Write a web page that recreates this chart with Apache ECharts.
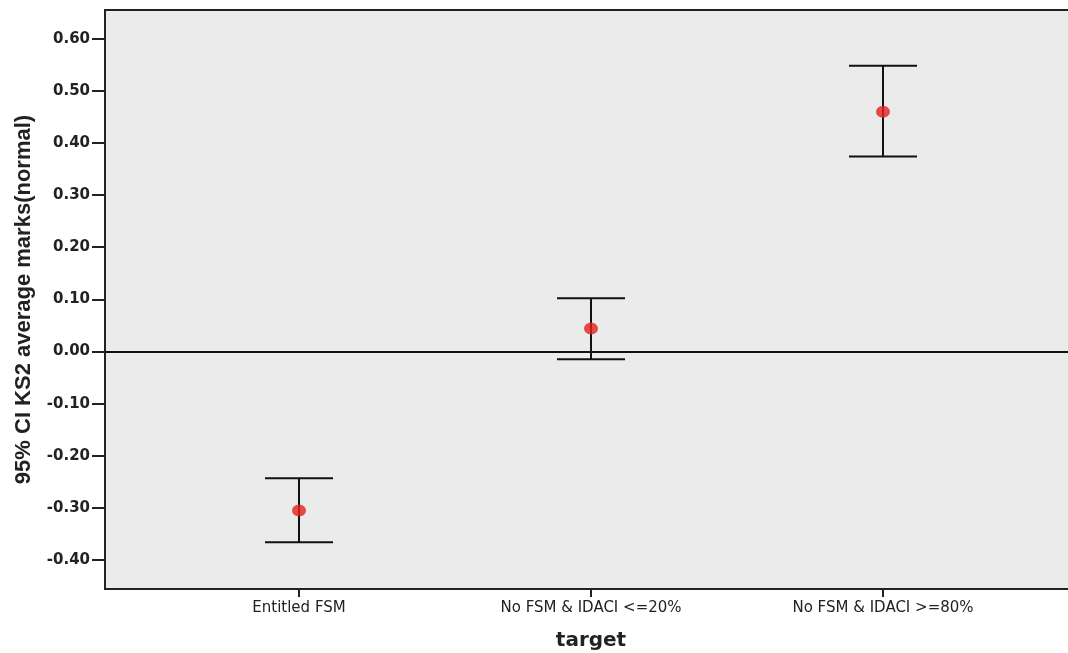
<!DOCTYPE html>
<html><head><meta charset="utf-8">
<script src="https://cdn.jsdelivr.net/npm/echarts@6/dist/echarts.min.js"></script>
<style>html,body{margin:0;padding:0;background:#fff}#c{width:1068px;height:653px}</style>
</head><body><div id="c"></div>
<script>
const categories = ['Entitled FSM', 'No FSM & IDACI <=20%', 'No FSM & IDACI >=80%'];
const means = [-0.305, 0.044, 0.460];
const lower = [-0.366, -0.015, 0.374];
const upper = [-0.243, 0.102, 0.548];
const yTicks = [-0.4, -0.3, -0.2, -0.1, 0.0, 0.1, 0.2, 0.3, 0.4, 0.5, 0.6];
const xPositions = [1, 2, 3];

const font = '"Liberation Sans", Arial, sans-serif';
const wide = '"DejaVu Sans", sans-serif';
const chart = echarts.init(document.getElementById('c'));
chart.setOption({
  animation: false,
  grid: {left: 105, right: -9, top: 10, bottom: 64, outerBoundsMode: 'none', containLabel: false,
    show: true, backgroundColor: '#ebebeb', borderColor: '#222', borderWidth: 2},
  xAxis: {
    type: 'value', min: 0.3356, max: 3.6644,
    name: 'target', nameLocation: 'middle', nameGap: 42,
    nameTextStyle: {fontFamily: wide, fontWeight: 'bold', fontSize: 20, color: '#222'},
    axisLine: {show: true, onZero: false, lineStyle: {color: '#222', width: 2}},
    axisTick: {show: true, length: 8, lineStyle: {color: '#222', width: 2}, customValues: xPositions},
    axisLabel: {customValues: xPositions, margin: 12, fontFamily: wide, fontSize: 15, color: '#222',
      formatter: v => categories[Math.round(v) - 1] || ''},
    splitLine: {show: false}
  },
  yAxis: {
    type: 'value', min: -0.4556, max: 0.655,
    name: '95% CI KS2 average marks(normal)', nameLocation: 'middle', nameGap: 70, nameRotate: 90,
    nameTextStyle: {fontFamily: font, fontWeight: 'bold', fontSize: 22, color: '#222'},
    axisLine: {show: true, onZero: false, lineStyle: {color: '#222', width: 2}},
    axisTick: {show: true, length: 13, lineStyle: {color: '#222', width: 2}, customValues: yTicks},
    axisLabel: {customValues: yTicks, margin: 15, fontFamily: wide, fontWeight: 'bold', fontSize: 15, color: '#222',
      formatter: v => v.toFixed(2)},
    splitLine: {show: false}
  },
  series: [
    {
      type: 'custom',
      data: xPositions.map((x, i) => [x, lower[i], upper[i]]),
      renderItem: (params, api) => {
        const lo = api.coord([api.value(0), api.value(1)]);
        const hi = api.coord([api.value(0), api.value(2)]);
        const hw = 34;
        const st = {stroke: '#111', lineWidth: 2};
        return {type: 'group', children: [
          {type: 'line', shape: {x1: lo[0], y1: lo[1], x2: hi[0], y2: hi[1]}, style: st},
          {type: 'line', shape: {x1: lo[0] - hw, y1: lo[1], x2: lo[0] + hw, y2: lo[1]}, style: st},
          {type: 'line', shape: {x1: hi[0] - hw, y1: hi[1], x2: hi[0] + hw, y2: hi[1]}, style: st}
        ]};
      },
      markLine: {
        silent: true, symbol: 'none', label: {show: false},
        lineStyle: {color: '#111', width: 2, type: 'solid'},
        data: [{yAxis: 0}]
      },
      z: 2
    },
    {
      type: 'scatter',
      data: xPositions.map((x, i) => [x, means[i]]),
      symbol: 'circle', symbolSize: [14, 12],
      itemStyle: {color: '#e3201c'},
      z: 3
    }
  ]
});
</script></body></html>
